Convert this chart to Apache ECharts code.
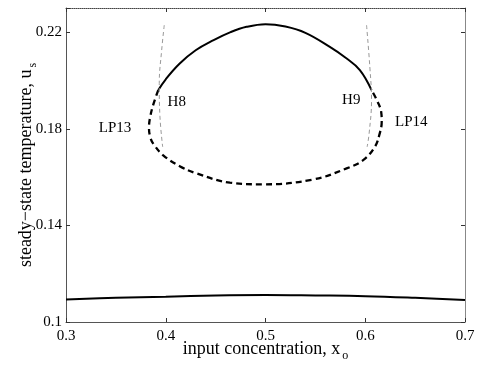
<!DOCTYPE html>
<html><head><meta charset="utf-8">
<script src="https://cdn.jsdelivr.net/npm/echarts@6/dist/echarts.min.js"></script>
<style>html,body{margin:0;padding:0;background:#fff}#c{width:477px;height:366px}</style>
</head><body><div id="c"></div>
<script>
// tick labels
const xTicks = [0.3, 0.4, 0.5, 0.6, 0.7];
const yTicks = [0.1, 0.14, 0.18, 0.22];

// lower (stable) branch
const lowX = [0.30, 0.35, 0.40, 0.45, 0.50, 0.55, 0.60, 0.65, 0.70];
const lowY = [0.1093, 0.1100, 0.1105, 0.1110, 0.1112, 0.1110, 0.1107, 0.1100, 0.1091];

// upper stable arc (H8 -> H9)
const arcX = [0.3925, 0.400, 0.414, 0.430, 0.448, 0.465, 0.481, 0.500, 0.520, 0.540, 0.5645, 0.580, 0.5946, 0.6063];
const arcY = [0.1960, 0.2005, 0.2070, 0.2125, 0.2167, 0.2200, 0.2222, 0.2233, 0.2223, 0.2197, 0.2139, 0.2095, 0.2043, 0.1960];

// unstable loop (H8 -> LP13 -> LP14 -> H9)
const loopX = [0.3925, 0.3875, 0.3842, 0.3832, 0.3845, 0.3880, 0.3975, 0.414, 0.431, 0.4643, 0.4977, 0.5478, 0.5813, 0.5979, 0.6096, 0.6146, 0.6165, 0.6160, 0.6120, 0.6063];
const loopY = [0.1960, 0.1900, 0.1845, 0.1805, 0.1765, 0.1735, 0.1690, 0.1645, 0.1615, 0.1577, 0.1570, 0.1590, 0.1636, 0.1670, 0.1725, 0.1782, 0.1829, 0.1869, 0.1915, 0.1960];

// thin grey dashed guides
const guideLX = [0.3985, 0.3959, 0.3935, 0.3942, 0.3969];
const guideLY = [0.2229, 0.2125, 0.1988, 0.1849, 0.1725];
const guideRX = [0.6013, 0.6046, 0.6063, 0.6039, 0.6019];
const guideRY = [0.2229, 0.2056, 0.1918, 0.1781, 0.1725];

// point labels
const ptNames = ['H8', 'LP13', 'H9', 'LP14'];
const ptX = [0.4110, 0.3491, 0.5860, 0.6462];
const ptY = [0.1912, 0.1803, 0.1920, 0.1827];

const zip = (a, b) => a.map((v, i) => [v, b[i]]);
const FONT = 'Liberation Serif';
const fmtY = v => { const t = yTicks.find(t => Math.abs(t - v) < 1e-9); return t === undefined ? '' : String(t); };
const fmtX = v => { const t = xTicks.find(t => Math.abs(t - v) < 1e-9); return t === undefined ? '' : String(t); };

const chart = echarts.init(document.getElementById('c'), null, {renderer: 'canvas'});
chart.setOption({
  animation: false,
  backgroundColor: '#fff',
  grid: {left: 66, right: 12, top: 8, bottom: 44, containLabel: false, outerBoundsMode: 'none'},
  xAxis: [{
    type: 'value', min: 0.3, max: 0.7, interval: 0.1, position: 'bottom',
    axisLine: {lineStyle: {color: '#555', width: 1}},
    axisTick: {inside: true, length: 4, lineStyle: {color: '#333'}},
    axisLabel: {formatter: fmtX, fontFamily: FONT, fontSize: 15, color: '#000', margin: 7},
    splitLine: {show: false},
    name: '{a|input concentration, x}{s|o}', nameLocation: 'middle', nameGap: 15, nameMoveOverlap: false,
    nameTextStyle: {rich: {
      a: {fontFamily: FONT, fontSize: 18, color: '#000'},
      s: {fontFamily: FONT, fontSize: 12, color: '#000', padding: [13, 0, 0, 2]}
    }}
  }, {
    type: 'value', min: 0.3, max: 0.7, interval: 0.1, position: 'top',
    axisLine: {lineStyle: {color: '#444', width: 1, type: 'dotted'}},
    axisTick: {inside: true, length: 4, lineStyle: {color: '#333'}},
    axisLabel: {show: false}, splitLine: {show: false}
  }],
  yAxis: [{
    type: 'value', min: 0.1, max: 0.23, interval: 0.04, position: 'left',
    axisLine: {show: true, lineStyle: {color: '#555', width: 1}},
    axisTick: {show: true, inside: true, length: 4, lineStyle: {color: '#333'}},
    axisLabel: {formatter: fmtY, fontFamily: FONT, fontSize: 15, color: '#000', margin: 4},
    splitLine: {show: false},
    name: '{a|steady\u2212state temperature, u}{s|s}', nameLocation: 'middle', nameGap: 27, nameRotate: 90, nameMoveOverlap: false,
    nameTextStyle: {rich: {
      a: {fontFamily: FONT, fontSize: 18, color: '#000'},
      s: {fontFamily: FONT, fontSize: 12, color: '#000', padding: [13, 0, 0, 2]}
    }}
  }, {
    type: 'value', min: 0.1, max: 0.23, interval: 0.04, position: 'right',
    axisLine: {show: true, lineStyle: {color: '#888', width: 1}},
    axisTick: {show: true, inside: true, length: 4, lineStyle: {color: '#333'}},
    axisLabel: {show: false}, splitLine: {show: false}
  }],
  series: [
    {type: 'line', data: zip(lowX, lowY), smooth: 0.4, showSymbol: false, lineStyle: {color: '#000', width: 2}},
    {type: 'line', data: zip(arcX, arcY), smooth: 0.4, showSymbol: false, lineStyle: {color: '#000', width: 2}},
    {type: 'line', data: zip(loopX, loopY), smooth: 0.4, showSymbol: false, lineStyle: {color: '#000', width: 2.3, type: [6, 4]}},
    {type: 'line', data: zip(guideLX, guideLY), smooth: 0.4, showSymbol: false, lineStyle: {color: '#999', width: 1, type: [4, 3]}},
    {type: 'line', data: zip(guideRX, guideRY), smooth: 0.4, showSymbol: false, lineStyle: {color: '#999', width: 1, type: [4, 3]}},
    {type: 'scatter', symbolSize: 0, itemStyle: {opacity: 1},
     data: ptNames.map((n, i) => ({name: n, value: [ptX[i], ptY[i]]})),
     label: {show: true, position: 'inside', formatter: p => p.name, fontFamily: FONT, fontSize: 15,
             color: '#000', opacity: 1, textBorderWidth: 0}}
  ]
});
</script></body></html>
